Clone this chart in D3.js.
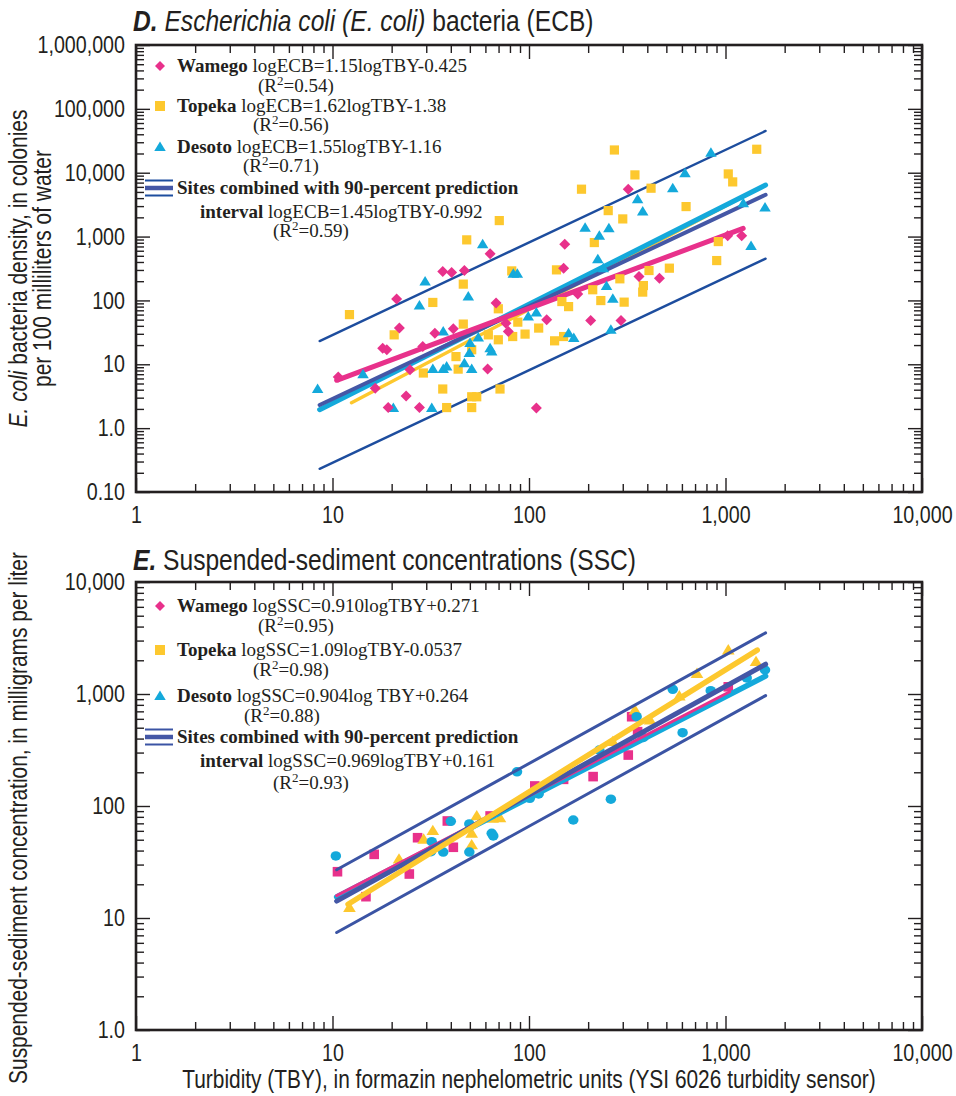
<!DOCTYPE html>
<html>
<head>
<meta charset="utf-8">
<script src="https://cdn.jsdelivr.net/npm/d3@7"></script>
<style>
  body { margin: 0; background: #fff; }
  svg { display: block; }
</style>
</head>
<body>
<svg id="chart" width="956" height="1096"></svg>
<script>
// ---------------- axis ticks ----------------
const tbyTickValues = [1, 10, 100, 1000, 10000];
const tbyTickLabels = ["1", "10", "100", "1,000", "10,000"];
const ecbTickValues = [0.1, 1, 10, 100, 1000, 10000, 100000, 1000000];
const ecbTickLabels = ["0.10", "1.0", "10", "100", "1,000", "10,000", "100,000", "1,000,000"];
const sscTickValues = [1, 10, 100, 1000, 10000];
const sscTickLabels = ["1.0", "10", "100", "1,000", "10,000"];

// ---------------- sites ----------------
const siteNames = ["Wamego", "Topeka", "Desoto"];
const siteColors = ["#e8318b", "#fdc82e", "#14a9db"];

// ---------------- D. E. coli bacteria [turbidity FNU, colonies per 100 mL] ----------------
const wamegoECB = [[21.2,105],[36.4,283],[40.4,273],[46.9,294],[63.4,536],[68,91],[21.9,36.9],[33.2,30.7],
  [41.2,36],[76.3,44],[78.5,32.6],[18,17.9],[18.9,16.9],[28.8,19],[10.7,6.3],[16.5,4.2],[24.8,8.2],[23.7,3.2],
  [27.7,2.1],[19.2,2.1],[61.6,8.4],[320,5520],[152,760],[363,237],[461,223],[1026,1030],[1209,1030],[177,126],
  [150,320],[123,50],[206,48.5],[294,48.5],[109,2.07]];
const topekaECB = [[70.6,1780],[48.2,888],[46.3,180],[32.4,93],[12.2,60],[81.7,290],[46.3,42.6],[20.6,28.9],
  [69.8,74],[87.7,45.7],[95.5,29.7],[69.8,24.2],[82.6,27.2],[62.1,28.9],[51.1,16.9],[42.5,13.2],[43.6,8.4],
  [29,7.3],[36.4,4.1],[51.1,3.1],[54.2,3.1],[71.2,4.1],[38.1,2.1],[51.1,2.1],[272,22700],[1442,23300],
  [346,9240],[1033,9570],[1088,7180],[185,5520],[418,5720],[630,2950],[253,2550],[300,1890],[215,806],
  [919,835],[902,421],[518,320],[408,294],[138,301],[290,218],[211,147],[382,171],[379,135],[147,96],
  [159,80],[232,99.5],[305,94],[112,36.9],[135,23.3],[150,27.2]];
const desotoECB = [[58.1,760],[29.6,198],[49.1,115],[27.7,83],[83.2,261],[87.2,261],[36.6,32.6],[55.2,26.3],
  [50.1,21.5],[64.6,15.9],[63.4,17.9],[49.7,15],[46.9,10.4],[32.4,8.4],[36.6,8.4],[38.1,9.25],[51.1,8.4],
  [14.3,7],[8.4,4.1],[20.4,2.07],[32,2.07],[99.1,56],[843,20600],[622,9820],[539,5720],[357,3850],
  [379,2460],[1232,3330],[1589,2840],[193,1380],[255,1350],[228,1030],[1349,715],[224,443],[239,320],
  [248,169],[267,106],[109,65],[159,30.7],[169,25.7],[261,34.7]];

const ecbSlopes = [1.15, 1.62, 1.55];
const ecbIntercepts = [-0.425, -1.38, -1.16];
const ecbFitRanges = [[10.5, 1230], [12.5, 1450], [8.6, 1600]];
const ecbEquations = ["logECB=1.15logTBY-0.425", "logECB=1.62logTBY-1.38", "logECB=1.55logTBY-1.16"];
const ecbR2 = ["0.54", "0.56", "0.71"];
const ecbCombined = { slope: 1.45, intercept: -0.992, range: [8.6, 1600], band: 1.0,
                      equation: "logECB=1.45logTBY-0.992", r2: "0.59" };

// ---------------- E. Suspended sediment [turbidity FNU, mg/L] ----------------
const wamegoSSC = [[10.6,25.9],[16.3,37],[14.8,15.5],[24.6,24.7],[23.5,29.7],[27.1,52.1],[38.4,73.5],
  [41.2,42.8],[63.4,81.5],[107,151],[150,173],[212,183],[320,285],[357,461],[333,627],[1033,1160]];
const topekaSSC = [[12.2,12.4],[21.8,33.5],[32.4,60.2],[29.1,50.4],[54.2,81.5],[51.1,57],[51.1,44.9],
  [71.2,78.2],[65.3,77.6],[267,375],[346,720],[413,586],[582,960],[716,1524],[1033,2470],[1430,1942]];
const desotoSSC = [[10.4,35.8],[32,48],[31.7,39.1],[36.6,38.8],[40,73],[49.7,69.1],[49.7,38.8],[64.6,57],
  [65.8,54],[86.9,202],[101,117],[112,128],[168,75],[261,115],[228,316],[382,409],[353,627],[539,1100],
  [605,451],[841,1070],[1282,1390],[1589,1638]];

const sscSlopes = [0.910, 1.09, 0.904];
const sscIntercepts = [0.271, -0.0537, 0.264];
const sscFitRanges = [[10.5, 1050], [12, 1450], [10.5, 1600]];
const sscEquations = ["logSSC=0.910logTBY+0.271", "logSSC=1.09logTBY-0.0537", "logSSC=0.904log TBY+0.264"];
const sscR2 = ["0.95", "0.98", "0.88"];
const sscCombined = { slope: 0.969, intercept: 0.161, range: [10.5, 1600], band: 0.28,
                      equation: "logSSC=0.969logTBY+0.161", r2: "0.93" };

// ---------------- drawing ----------------
const INK = "#231f20";
const SANS = "'Liberation Sans', Arial, sans-serif";
const SERIF = "'Liberation Serif', 'Times New Roman', serif";
const NARROW = 0.82;               // horizontal squeeze for the condensed sans lettering
const COMBINED = "#4457a6";
const svg = d3.select("#chart");

function minorTicks(domain) {
  const out = [];
  for (let p = Math.log10(domain[0]); p < Math.log10(domain[1]); p++) {
    for (let k = 2; k <= 9; k++) out.push(k * Math.pow(10, p));
  }
  return out;
}

function markerPath(shape, s) {
  if (shape === "diamond") return `M0,${-s}L${s},0L0,${s}L${-s},0Z`;
  if (shape === "square") return `M${-s},${-s}H${s}V${s}H${-s}Z`;
  return `M0,${-s * 1.1}L${s * 1.15},${s * 0.8}L${-s * 1.15},${s * 0.8}Z`;
}

function drawMarker(g, shape, color, cx, cy, s) {
  if (shape === "circle") {
    g.append("ellipse").attr("cx", cx).attr("cy", cy).attr("rx", s * 1.05).attr("ry", s * 0.95).attr("fill", color);
  } else {
    g.append("path").attr("d", markerPath(shape, s)).attr("transform", `translate(${cx},${cy})`).attr("fill", color);
  }
}

function narrowText(g, x, y, size, anchor, rotate) {
  return g.append("text")
    .attr("transform", `translate(${x},${y})${rotate ? " rotate(-90)" : ""} scale(${NARROW},1)`)
    .attr("font-family", SANS).attr("font-size", size).attr("fill", INK)
    .attr("text-anchor", anchor);
}

function drawAxes(box, x, y, xLabels, yValues, yLabels) {
  const g = svg.append("g");
  const style = sel => {
    sel.select(".domain").remove();
    sel.selectAll("line").attr("stroke", INK).attr("stroke-width", 1.4);
  };
  const xMinor = minorTicks(x.domain()), yMinor = minorTicks(y.domain());
  // bottom
  g.append("g").attr("transform", `translate(0,${box.bottom})`)
    .call(d3.axisBottom(x).tickValues(tbyTickValues).tickSize(-14).tickPadding(14)
      .tickFormat((d, i) => xLabels[i]))
    .call(style)
    .call(a => a.selectAll("text").attr("font-family", SANS).attr("font-size", 24)
      .attr("fill", INK).attr("transform", `scale(${NARROW},1)`));
  g.append("g").attr("transform", `translate(0,${box.bottom})`)
    .call(d3.axisBottom(x).tickValues(xMinor).tickSize(-8).tickFormat("")).call(style);
  // top
  g.append("g").attr("transform", `translate(0,${box.top})`)
    .call(d3.axisTop(x).tickValues(tbyTickValues).tickSize(-14).tickFormat("")).call(style);
  g.append("g").attr("transform", `translate(0,${box.top})`)
    .call(d3.axisTop(x).tickValues(xMinor).tickSize(-8).tickFormat("")).call(style);
  // left
  g.append("g").attr("transform", `translate(${box.left},0)`)
    .call(d3.axisLeft(y).tickValues(yValues).tickSize(-14).tickFormat((d, i) => yLabels[i]))
    .call(style)
    .call(a => a.selectAll("text").attr("font-family", SANS).attr("font-size", 24).attr("fill", INK)
      .attr("x", -11 / NARROW).attr("transform", `scale(${NARROW},1)`));
  g.append("g").attr("transform", `translate(${box.left},0)`)
    .call(d3.axisLeft(y).tickValues(yMinor).tickSize(-8).tickFormat("")).call(style);
  // right
  g.append("g").attr("transform", `translate(${box.right},0)`)
    .call(d3.axisRight(y).tickValues(yValues).tickSize(-14).tickFormat("")).call(style);
  g.append("g").attr("transform", `translate(${box.right},0)`)
    .call(d3.axisRight(y).tickValues(yMinor).tickSize(-8).tickFormat("")).call(style);
  // frame
  g.append("rect").attr("x", box.left).attr("y", box.top)
    .attr("width", box.right - box.left).attr("height", box.bottom - box.top)
    .attr("fill", "none").attr("stroke", INK).attr("stroke-width", 2.6);
}

function fitLine(g, x, y, slope, intercept, range, offset, color, width) {
  const pts = range.map(t => [t, Math.pow(10, slope * Math.log10(t) + intercept + offset)]);
  g.append("path")
    .attr("d", d3.line().x(d => x(d[0])).y(d => y(d[1]))(pts))
    .attr("fill", "none").attr("stroke", color).attr("stroke-width", width)
    .attr("stroke-linecap", "round");
}

function drawPoints(g, x, y, rows, shape, color, s) {
  rows.forEach(d => drawMarker(g, shape, color, x(d[0]), y(d[1]), s));
}

function r2Text(g, px, py, value) {
  const t = g.append("text").attr("x", px).attr("y", py)
    .attr("font-family", SERIF).attr("font-size", 19).attr("fill", INK);
  t.append("tspan").text("(R");
  t.append("tspan").attr("dy", -7).attr("font-size", 13).text("2");
  t.append("tspan").attr("dy", 7).text("=" + value + ")");
}

function drawLegend(spec) {
  const g = svg.append("g");
  spec.shapes.forEach((shape, i) => {
    drawMarker(g, shape, siteColors[i], 160, spec.rowY[i], 5);
    const t = g.append("text").attr("x", 177).attr("y", spec.rowY[i] + 6)
      .attr("font-family", SERIF).attr("font-size", 19).attr("fill", INK);
    t.append("tspan").attr("font-weight", "bold").text(siteNames[i]);
    t.append("tspan").text(" " + spec.equations[i]);
    r2Text(g, spec.r2X[i], spec.r2Y[i] + 6, spec.r2[i]);
  });
  // combined-fit symbol: regression line between its prediction limits
  const ly = spec.sitesY;
  g.append("line").attr("x1", 145).attr("x2", 173).attr("y1", ly - 7.5).attr("y2", ly - 7.5)
    .attr("stroke", spec.bandColor).attr("stroke-width", 2);
  g.append("line").attr("x1", 145).attr("x2", 173).attr("y1", ly).attr("y2", ly)
    .attr("stroke", COMBINED).attr("stroke-width", 4.5);
  g.append("line").attr("x1", 145).attr("x2", 173).attr("y1", ly + 7.5).attr("y2", ly + 7.5)
    .attr("stroke", spec.bandColor).attr("stroke-width", 2);
  g.append("text").attr("x", 177).attr("y", ly + 6)
    .attr("font-family", SERIF).attr("font-size", 19).attr("font-weight", "bold").attr("fill", INK)
    .text("Sites combined with 90-percent prediction");
  const t2 = g.append("text").attr("x", 200).attr("y", spec.intervalY + 6)
    .attr("font-family", SERIF).attr("font-size", 19).attr("fill", INK);
  t2.append("tspan").attr("font-weight", "bold").text("interval");
  t2.append("tspan").text(" " + spec.combined.equation);
  r2Text(g, 273, spec.combinedR2Y + 6, spec.combined.r2);
}

function drawTitle(y, letter, parts) {
  const t = narrowText(svg, 133, y, 30, "start", false);
  t.append("tspan").attr("font-weight", "bold").attr("font-style", "italic").text(letter);
  parts.forEach(p => t.append("tspan").attr("font-style", p.italic ? "italic" : "normal").text(p.text));
}

const x = d3.scaleLog().domain([1, 10000]).range([136, 922]);

// ===== Panel D =====
const boxD = { left: 136, right: 922, top: 45, bottom: 492 };
const yD = d3.scaleLog().domain([0.1, 1000000]).range([boxD.bottom, boxD.top]);
const plotD = svg.append("g");
const bandD = "#1d4d9e";
fitLine(plotD, x, yD, ecbCombined.slope, ecbCombined.intercept, ecbCombined.range, ecbCombined.band, bandD, 2.4);
fitLine(plotD, x, yD, ecbCombined.slope, ecbCombined.intercept, ecbCombined.range, -ecbCombined.band, bandD, 2.4);
fitLine(plotD, x, yD, ecbSlopes[1], ecbIntercepts[1], ecbFitRanges[1], 0, siteColors[1], 3.5);
fitLine(plotD, x, yD, ecbSlopes[2], ecbIntercepts[2], ecbFitRanges[2], 0, siteColors[2], 5);
fitLine(plotD, x, yD, ecbCombined.slope, ecbCombined.intercept, ecbCombined.range, 0, COMBINED, 4);
fitLine(plotD, x, yD, ecbSlopes[0], ecbIntercepts[0], ecbFitRanges[0], 0, siteColors[0], 5);
drawPoints(plotD, x, yD, topekaECB, "square", siteColors[1], 4.6);
drawPoints(plotD, x, yD, desotoECB, "triangle", siteColors[2], 5);
drawPoints(plotD, x, yD, wamegoECB, "diamond", siteColors[0], 5.5);
drawAxes(boxD, x, yD, tbyTickLabels, ecbTickValues, ecbTickLabels);
drawLegend({ shapes: ["diamond", "square", "triangle"], equations: ecbEquations, r2: ecbR2,
  rowY: [66, 106, 147], r2X: [258, 253, 243], r2Y: [86, 125, 166],
  sitesY: 188, intervalY: 212, combinedR2Y: 231, combined: ecbCombined, bandColor: bandD });
drawTitle(31, "D.", [{ text: " Escherichia coli (E. coli)", italic: true }, { text: " bacteria (ECB)" }]);
{
  const t1 = narrowText(svg, 27, (boxD.top + boxD.bottom) / 2, 25.5, "middle", true);
  t1.append("tspan").attr("font-style", "italic").text("E. coli");
  t1.append("tspan").text(" bacteria density, in colonies");
  narrowText(svg, 51, (boxD.top + boxD.bottom) / 2, 25.5, "middle", true).text("per 100 milliliters of water");
}

// ===== Panel E =====
const boxE = { left: 136, right: 922, top: 582, bottom: 1030 };
const yE = d3.scaleLog().domain([1, 10000]).range([boxE.bottom, boxE.top]);
const plotE = svg.append("g");
const bandE = "#3b54a4";
drawPoints(plotE, x, yE, wamegoSSC, "square", siteColors[0], 4.8);
drawPoints(plotE, x, yE, topekaSSC, "triangle", siteColors[1], 5.5);
drawPoints(plotE, x, yE, desotoSSC, "circle", siteColors[2], 5);
fitLine(plotE, x, yE, sscCombined.slope, sscCombined.intercept, sscCombined.range, sscCombined.band, bandE, 3);
fitLine(plotE, x, yE, sscCombined.slope, sscCombined.intercept, sscCombined.range, -sscCombined.band, bandE, 3);
fitLine(plotE, x, yE, sscSlopes[2], sscIntercepts[2], sscFitRanges[2], 0, siteColors[2], 5.5);
fitLine(plotE, x, yE, sscSlopes[0], sscIntercepts[0], sscFitRanges[0], 0, siteColors[0], 3);
fitLine(plotE, x, yE, sscCombined.slope, sscCombined.intercept, sscCombined.range, 0, COMBINED, 5);
fitLine(plotE, x, yE, sscSlopes[1], sscIntercepts[1], sscFitRanges[1], 0, siteColors[1], 5.5);
drawAxes(boxE, x, yE, tbyTickLabels, sscTickValues, sscTickLabels);
drawLegend({ shapes: ["diamond", "square", "triangle"], equations: sscEquations, r2: sscR2,
  rowY: [606, 650, 696], r2X: [258, 253, 244], r2Y: [626, 670, 716],
  sitesY: 737, intervalY: 761, combinedR2Y: 783, combined: sscCombined, bandColor: bandE });
drawTitle(570, "E.", [{ text: " Suspended-sediment concentrations (SSC)" }]);
narrowText(svg, 27, 818, 25.5, "middle", true)
  .text("Suspended-sediment concentration, in milligrams per liter");
narrowText(svg, (boxE.left + boxE.right) / 2, 1088, 25.5, "middle", false)
  .text("Turbidity (TBY), in formazin nephelometric units (YSI 6026 turbidity sensor)");
</script>
</body>
</html>
